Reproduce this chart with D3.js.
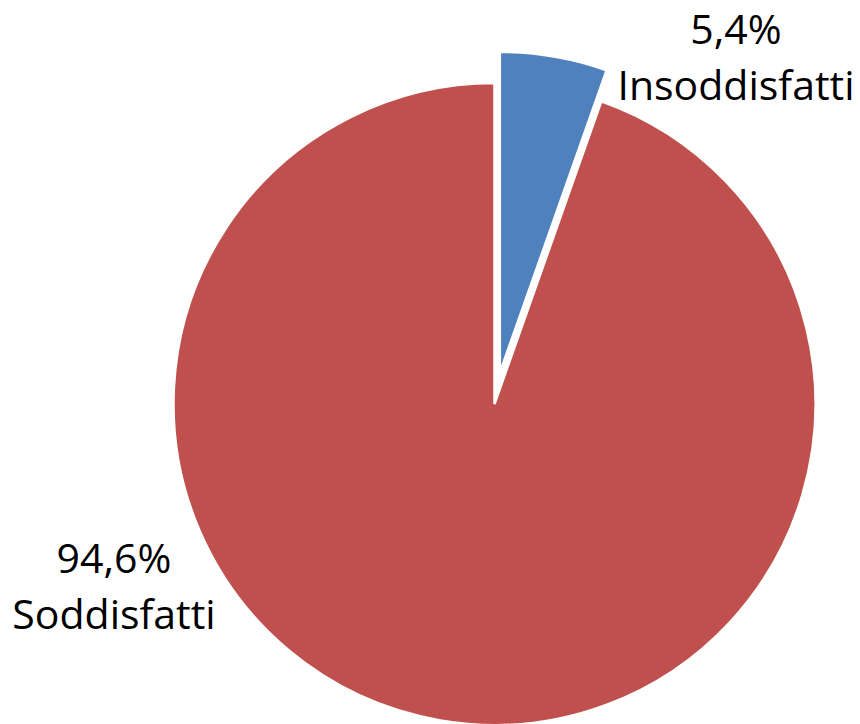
<!DOCTYPE html>
<html>
<head>
<meta charset="utf-8">
<script src="https://cdn.jsdelivr.net/npm/d3@7"></script>
<style>
  html, body { margin: 0; padding: 0; background: #fff; overflow: hidden; }
  #chart { width: 860px; height: 724px; }
</style>
</head>
<body>
<div id="chart"></div>
<script>
const categories = ["Insoddisfatti", "Soddisfatti"];
const values = [5.4, 94.6];
const valueLabels = ["5,4%", "94,6%"];
const colors = ["#4F81BD", "#C0504D"];
const exploded = [true, false];

const drawPie = (containerId) => {
    const WIDTH = 860;
    const HEIGHT = 724;
    const CX = 494.5;
    const CY = 404;
    const RADIUS = 321;
    const EXPLODE = 31.5;

    const svg = d3.select("#" + containerId)
        .html("")
        .append("svg")
        .attr("width", WIDTH)
        .attr("height", HEIGHT);

    const data = categories.map((c, i) => ({
        name: c,
        value: values[i],
        label: valueLabels[i],
        color: colors[i],
        exploded: exploded[i]
    }));

    const pie = d3.pie().sort(null).value(d => d.value);
    const arc = d3.arc().innerRadius(0).outerRadius(RADIUS);

    const g = svg.append("g").attr("transform", `translate(${CX},${CY})`);

    const arcs = pie(data);

    g.selectAll("path")
        .data(arcs)
        .join("path")
        .attr("d", arc)
        .attr("fill", d => d.data.color)
        .attr("stroke", "#fff")
        .attr("stroke-width", 2.5)
        .attr("stroke-linejoin", "miter")
        .attr("transform", d => {
            if (!d.data.exploded) return null;
            const mid = (d.startAngle + d.endAngle) / 2;
            return `translate(${EXPLODE * Math.sin(mid)},${-EXPLODE * Math.cos(mid)})`;
        });

    // label anchors (centre of text block, first baseline)
    const labelPos = {
        "Insoddisfatti": [736, 44],
        "Soddisfatti": [114, 573]
    };

    const labels = svg.append("g")
        .attr("font-family", "'Open Sans', 'Noto Sans', sans-serif")
        .attr("font-size", 41)
        .attr("fill", "#000")
        .attr("text-anchor", "middle");

    arcs.forEach(d => {
        const [x, y] = labelPos[d.data.name];
        const t = labels.append("text").attr("x", x).attr("y", y);
        t.append("tspan").attr("x", x).attr("y", y).text(d.data.label);
        t.append("tspan").attr("x", x).attr("y", y + 56).text(d.data.name);
    });
};

drawPie("chart");
</script>
</body>
</html>
